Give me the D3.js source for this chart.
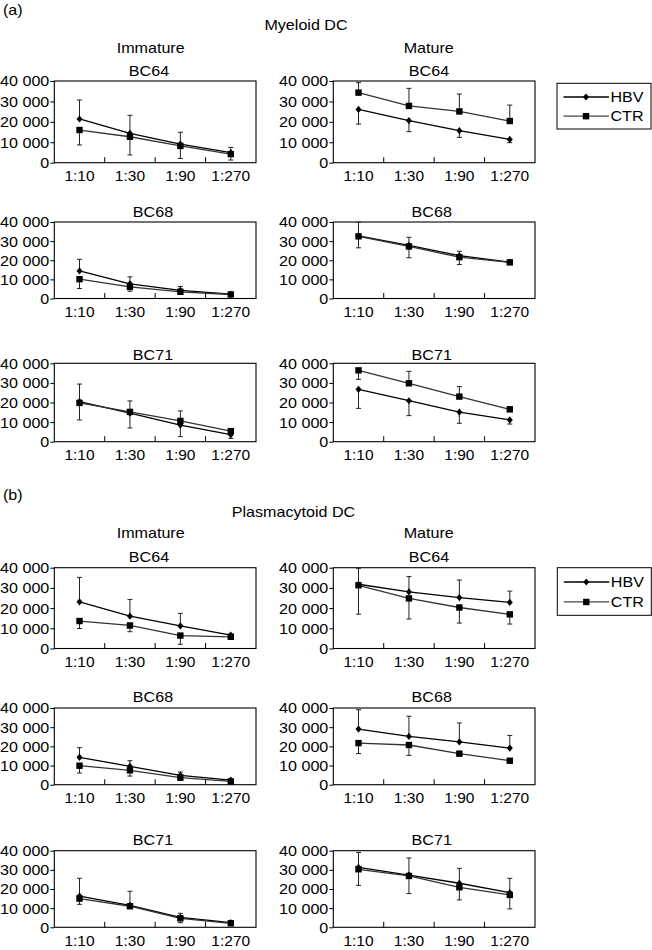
<!DOCTYPE html>
<html><head><meta charset="utf-8">
<script src="https://cdn.jsdelivr.net/npm/d3@7"></script>
<style>
body{margin:0;background:#fff}
svg{display:block}
text{font-family:"Liberation Sans",Arial,Helvetica,sans-serif;font-size:14px;fill:#000}
</style>
</head><body><svg id="c" width="652" height="950"></svg>
<script>
// ---------- data ----------
const dilutions = ["1:10", "1:30", "1:90", "1:270"];
const yTicks = [0, 10000, 20000, 30000, 40000];
const seriesNames = ["HBV", "CTR"];
const sectionLabels = ["(a)", "(b)"];
const sectionTitles = ["Myeloid DC", "Plasmacytoid DC"];
const stageTitles = ["Immature", "Mature"];
const donors = ["BC64", "BC68", "BC71"];
// error values: positive = bar drawn upward, negative = bar drawn downward

// Myeloid DC
const myImm64HBV = [21400, 14400, 9100, 4900], myImm64HBVErr = [9300, 8800, 5800, 2600];
const myImm64CTR = [16000, 12700, 8200, 4200], myImm64CTRErr = [-7300, -8900, -6100, -2900];
const myMat64HBV = [26100, 20600, 15700, 11400], myMat64HBVErr = [-7200, -5400, -3300, -1600];
const myMat64CTR = [34300, 27800, 25100, 20400], myMat64CTRErr = [4900, 8600, 8500, 7800];
const myImm68HBV = [14400, 7700, 4300, 2300], myImm68HBVErr = [6100, 3600, 2000, 600];
const myImm68CTR = [10100, 6100, 3500, 2100], myImm68CTRErr = [-4900, -2300, -1400, -500];
const myMat68HBV = [32800, 27800, 22400, 19000], myMat68HBVErr = [7000, 4200, 2300, 500];
const myMat68CTR = [32500, 27200, 21600, 18900], myMat68CTRErr = [-6000, -5900, -3800, -500];
const myImm71HBV = [20500, 14600, 8500, 3600], myImm71HBVErr = [-9400, -7600, -5900, -1900];
const myImm71CTR = [19800, 15200, 10600, 5400], myImm71CTRErr = [9600, 5600, 5100, 1100];
const myMat71HBV = [26700, 20900, 15100, 11100], myMat71HBVErr = [-9700, -7600, -5700, -2100];
const myMat71CTR = [36400, 29800, 23000, 16500], myMat71CTRErr = [-4600, 6100, 5100, 1300];

// Plasmacytoid DC
const pcImm64HBV = [23100, 16000, 11200, 6600], pcImm64HBVErr = [12100, 8300, 6200, 500];
const pcImm64CTR = [13600, 11400, 6400, 5800], pcImm64CTRErr = [-3700, -3100, -4300, -700];
const pcMat64HBV = [31800, 28000, 25200, 22800], pcMat64HBVErr = [7900, 7600, 8700, 5600];
const pcMat64CTR = [31300, 24800, 20300, 16900], pcMat64CTRErr = [-14300, -10200, -7700, -4800];
const pcImm68HBV = [14300, 9600, 4900, 2400], pcImm68HBVErr = [5000, 2900, 1700, 500];
const pcImm68CTR = [9900, 7500, 3700, 1700], pcImm68CTRErr = [-3800, -3000, -1400, -500];
const pcMat68HBV = [29000, 25200, 22300, 19100], pcMat68HBVErr = [10100, 10500, 9900, 6600];
const pcMat68CTR = [21700, 20700, 16200, 12500], pcMat68CTRErr = [-5500, -5400, -1100, -500];
const pcImm71HBV = [16300, 11500, 5200, 2400], pcImm71HBVErr = [9300, 7300, 2100, 400];
const pcImm71CTR = [15000, 11000, 4700, 2100], pcImm71CTRErr = [-3000, -1100, -2300, -700];
const pcMat71HBV = [31300, 27300, 23000, 18100], pcMat71HBVErr = [7800, 8900, 7800, 7500];
const pcMat71CTR = [30300, 26800, 20900, 16900], pcMat71CTRErr = [-8400, -9200, -6600, -7300];

// panels: [row, col, donor, hbv, hbvErr, ctr, ctrErr]
const panels = [
  [0, 0, 0, myImm64HBV, myImm64HBVErr, myImm64CTR, myImm64CTRErr],
  [0, 1, 0, myMat64HBV, myMat64HBVErr, myMat64CTR, myMat64CTRErr],
  [1, 0, 1, myImm68HBV, myImm68HBVErr, myImm68CTR, myImm68CTRErr],
  [1, 1, 1, myMat68HBV, myMat68HBVErr, myMat68CTR, myMat68CTRErr],
  [2, 0, 2, myImm71HBV, myImm71HBVErr, myImm71CTR, myImm71CTRErr],
  [2, 1, 2, myMat71HBV, myMat71HBVErr, myMat71CTR, myMat71CTRErr],
  [3, 0, 0, pcImm64HBV, pcImm64HBVErr, pcImm64CTR, pcImm64CTRErr],
  [3, 1, 0, pcMat64HBV, pcMat64HBVErr, pcMat64CTR, pcMat64CTRErr],
  [4, 0, 1, pcImm68HBV, pcImm68HBVErr, pcImm68CTR, pcImm68CTRErr],
  [4, 1, 1, pcMat68HBV, pcMat68HBVErr, pcMat68CTR, pcMat68CTRErr],
  [5, 0, 2, pcImm71HBV, pcImm71HBVErr, pcImm71CTR, pcImm71CTRErr],
  [5, 1, 2, pcMat71HBV, pcMat71HBVErr, pcMat71CTR, pcMat71CTRErr]
];

// ---------- layout ----------
const colX = [[54.3, 256], [333.3, 535]];
const rowY = [[81, 162.7], [222, 298.5], [363.3, 441.7], [567.7, 648.5], [708, 784.7], [850.7, 927.3]];
const donorTitleY = [70.7, 211.7, 355, 556.7, 696.7, 840];
const donorTitleX = [[149, 429], [153, 431.7], [153, 431.7], [149, 429], [153, 431.7], [153, 431.7]];
const sectionLabelY = [10, 495];
const sectionTitlePos = [[306, 25], [293.5, 511.7]];
const stageTitleY = [47.7, 532.7];
const stageTitleX = [150.7, 428.7];
const legendBoxes = [[557, 83.3, 94, 45.7], [557.3, 567.7, 94, 47.6]];
const SX = 1.15;

const svg = d3.select("#c");
const fmt = d3.formatLocale({decimal: ".", thousands: " ", grouping: [3], currency: ["", ""]}).format(",");

function label(sel, x, y, s, anchor = "middle", sx = SX) {
  return sel.append("text")
    .attr("transform", `translate(${x},${y}) scale(${sx},1)`)
    .attr("text-anchor", anchor).attr("dy", "0.35em").text(s);
}

function diamond(sel, cx, cy) {
  sel.append("path").attr("d", `M${cx},${cy - 3.6}L${cx + 3},${cy}L${cx},${cy + 3.6}L${cx - 3},${cy}Z`).attr("fill", "#000");
}
function square(sel, cx, cy) {
  sel.append("rect").attr("x", cx - 3.2).attr("y", cy - 3.2).attr("width", 6.4).attr("height", 6.4).attr("fill", "#000");
}

// titles
sectionLabels.forEach((s, i) => label(svg, 3, sectionLabelY[i], s, "start"));
sectionTitles.forEach((s, i) => label(svg, sectionTitlePos[i][0], sectionTitlePos[i][1], s));
[0, 1].forEach(sec => stageTitles.forEach((s, c) => label(svg, stageTitleX[c], stageTitleY[sec], s)));

// panels
panels.forEach(([r, c, dIdx, hbv, hbvErr, ctr, ctrErr]) => {
  const [x0, x1] = colX[c];
  const [yt, yb] = rowY[r];
  const x = d3.scaleBand().domain(dilutions).range([x0, x1]).padding(0);
  const y = d3.scaleLinear().domain([0, 40000]).range([yb, yt]);
  const cx = d => x(d) + x.bandwidth() / 2;
  const g = svg.append("g");

  label(g, donorTitleX[r][c], donorTitleY[r], donors[dIdx]);

  // y axis
  const ya = g.append("g").attr("transform", `translate(${x0},0)`)
    .call(d3.axisLeft(y).tickValues(yTicks).tickSize(4).tickPadding(1).tickFormat(fmt));
  ya.select(".domain").remove();
  ya.selectAll(".tick line").attr("stroke", "#000");
  ya.selectAll(".tick text").attr("x", 0).attr("dy", "0.35em")
    .attr("transform", `translate(-5,0) scale(${SX},1)`)
    .style("font-size", "14px").style("font-family", null);
  ya.attr("font-size", null).attr("font-family", null);

  // x axis labels
  const xa = g.append("g").attr("transform", `translate(0,${yb})`)
    .call(d3.axisBottom(x).tickSize(0).tickPadding(0));
  xa.select(".domain").remove();
  xa.selectAll(".tick text").attr("y", 0).attr("dy", "0.35em")
    .attr("transform", `translate(0,13.3) scale(1.11,1)`);
  xa.attr("font-size", null).attr("font-family", null);

  // inner ticks at category boundaries
  g.selectAll(".bt").data(dilutions.slice(1)).enter().append("line")
    .attr("x1", d => x(d)).attr("x2", d => x(d))
    .attr("y1", yb).attr("y2", yb - 5.5).attr("stroke", "#000").attr("stroke-width", 1);

  // frame
  g.append("rect").attr("x", x0).attr("y", yt).attr("width", x1 - x0).attr("height", yb - yt)
    .attr("fill", "none").attr("stroke", "#000").attr("stroke-width", 1.1);

  const line = d3.line().x((d, i) => cx(dilutions[i])).y(d => y(d));

  // error bars
  const series = [[hbv, hbvErr, "#000", diamond], [ctr, ctrErr, "#333", square]];
  series.forEach(([vals, errs]) => {
    vals.forEach((v, i) => {
      const xx = cx(dilutions[i]);
      const yEnd = y(Math.min(40000, v + errs[i]));
      g.append("line").attr("x1", xx).attr("x2", xx).attr("y1", y(v)).attr("y2", yEnd)
        .attr("stroke", "#222").attr("stroke-width", 1);
      g.append("line").attr("x1", xx - 2.5).attr("x2", xx + 2.5).attr("y1", yEnd).attr("y2", yEnd)
        .attr("stroke", "#222").attr("stroke-width", 1);
    });
  });
  // lines + markers
  series.forEach(([vals, errs, col, mk]) => {
    g.append("path").attr("d", line(vals)).attr("fill", "none").attr("stroke", col).attr("stroke-width", 1.3);
    vals.forEach((v, i) => mk(g, cx(dilutions[i]), y(v)));
  });
});

// legends
legendBoxes.forEach(([lx, ly, lw, lh]) => {
  const g = svg.append("g");
  g.append("rect").attr("x", lx).attr("y", ly).attr("width", lw).attr("height", lh)
    .attr("fill", "#fff").attr("stroke", "#000").attr("stroke-width", 1);
  const ys = d3.scalePoint().domain(seriesNames).range([ly + lh * 0.3, ly + lh * 0.72]);
  seriesNames.forEach((s, i) => {
    const yy = ys(s);
    g.append("line").attr("x1", lx + 6.5).attr("x2", lx + 52).attr("y1", yy).attr("y2", yy)
      .attr("stroke", i === 0 ? "#000" : "#444").attr("stroke-width", 1.3);
    (i === 0 ? diamond : square)(g, lx + 29, yy);
    label(g, lx + 53.5, yy, s, "start");
  });
});
</script>
</body></html>
